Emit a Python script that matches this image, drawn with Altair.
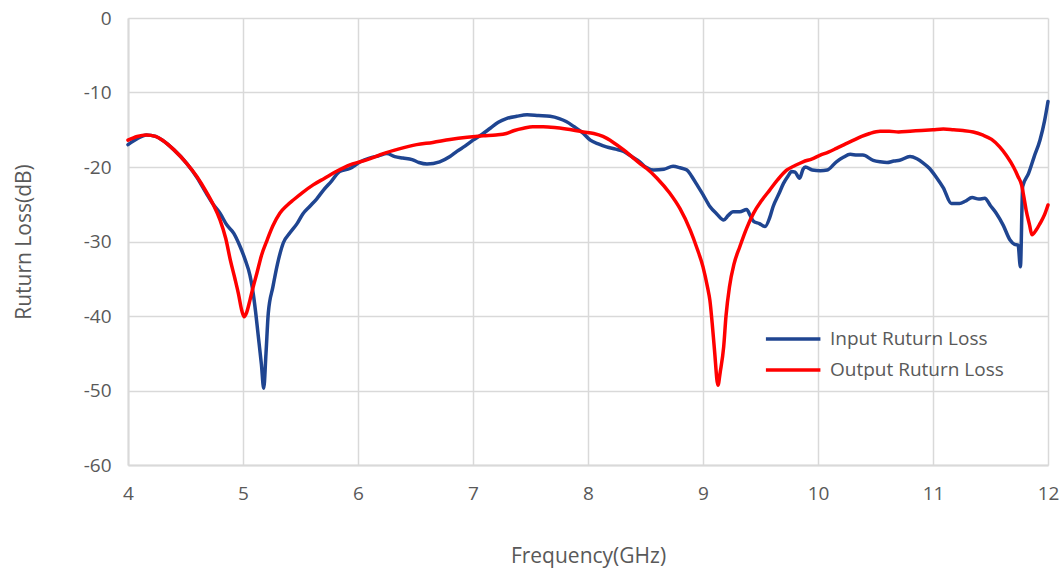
import altair as alt
import pandas as pd

in_freq = [4.00, 4.08, 4.16, 4.24, 4.30, 4.40, 4.51, 4.60, 4.68, 4.74, 4.80, 4.86, 4.92, 4.97, 5.02, 5.06, 5.08, 5.11, 5.13, 5.16, 5.18, 5.20, 5.22, 5.26, 5.30, 5.35, 5.41, 5.47, 5.52, 5.58, 5.64, 5.70, 5.77, 5.84, 5.93, 6.02, 6.10, 6.18, 6.25, 6.32, 6.39, 6.47, 6.53, 6.60, 6.71, 6.80, 6.86, 6.93, 7.00, 7.08, 7.15, 7.22, 7.29, 7.38, 7.47, 7.57, 7.67, 7.75, 7.81, 7.88, 7.96, 8.02, 8.09, 8.16, 8.24, 8.31, 8.38, 8.45, 8.50, 8.57, 8.66, 8.74, 8.80, 8.86, 8.90, 8.94, 9.00, 9.06, 9.12, 9.18, 9.22, 9.26, 9.32, 9.38, 9.41, 9.44, 9.49, 9.54, 9.58, 9.61, 9.66, 9.70, 9.74, 9.77, 9.80, 9.84, 9.87, 9.89, 9.95, 10.02, 10.08, 10.16, 10.22, 10.28, 10.34, 10.39, 10.48, 10.54, 10.60, 10.66, 10.71, 10.80, 10.86, 10.91, 10.97, 11.03, 11.09, 11.16, 11.23, 11.28, 11.34, 11.40, 11.45, 11.50, 11.55, 11.61, 11.67, 11.71, 11.74, 11.76, 11.78, 11.83, 11.88, 11.93, 11.97, 12.00]
in_db = [-17.0, -16.2, -15.7, -15.9, -16.4, -17.7, -19.5, -21.4, -23.5, -25.0, -26.2, -27.8, -28.9, -30.5, -32.5, -34.5, -36.1, -39.5, -42.3, -46.5, -49.7, -45.0, -39.6, -36.1, -33.0, -30.2, -28.8, -27.6, -26.3, -25.3, -24.3, -23.1, -21.9, -20.6, -20.2, -19.3, -18.8, -18.5, -18.2, -18.6, -18.8, -19.0, -19.4, -19.6, -19.3, -18.6, -17.9, -17.2, -16.4, -15.6, -14.8, -14.0, -13.5, -13.2, -13.0, -13.1, -13.2, -13.5, -13.9, -14.6, -15.5, -16.4, -16.9, -17.3, -17.6, -17.9, -18.6, -19.3, -20.0, -20.4, -20.3, -19.9, -20.1, -20.4, -21.2, -22.2, -23.7, -25.3, -26.3, -27.1, -26.5, -26.0, -26.0, -25.7, -26.5, -27.3, -27.6, -28.0, -26.8, -25.3, -23.6, -22.2, -21.2, -20.6, -20.7, -21.5, -20.3, -20.0, -20.4, -20.5, -20.4, -19.3, -18.7, -18.3, -18.4, -18.4, -19.1, -19.3, -19.4, -19.2, -19.1, -18.6, -18.9, -19.4, -20.2, -21.4, -22.8, -24.9, -24.9, -24.6, -24.1, -24.3, -24.2, -25.2, -26.2, -27.8, -29.8, -30.4, -30.5, -33.4, -22.6, -20.9, -18.6, -16.4, -13.8, -11.2]

out_freq = [4.00, 4.08, 4.16, 4.24, 4.30, 4.40, 4.51, 4.60, 4.68, 4.74, 4.80, 4.85, 4.89, 4.93, 4.96, 4.99, 5.01, 5.03, 5.06, 5.09, 5.12, 5.16, 5.21, 5.26, 5.32, 5.38, 5.44, 5.52, 5.61, 5.71, 5.81, 5.93, 6.02, 6.10, 6.22, 6.35, 6.51, 6.65, 6.80, 6.95, 7.09, 7.20, 7.29, 7.36, 7.44, 7.52, 7.61, 7.71, 7.81, 7.96, 8.05, 8.13, 8.22, 8.31, 8.38, 8.45, 8.51, 8.60, 8.71, 8.80, 8.89, 8.95, 9.00, 9.04, 9.06, 9.08, 9.10, 9.13, 9.15, 9.18, 9.20, 9.23, 9.27, 9.32, 9.38, 9.44, 9.51, 9.58, 9.65, 9.73, 9.80, 9.87, 9.95, 10.02, 10.09, 10.16, 10.24, 10.31, 10.38, 10.45, 10.54, 10.62, 10.70, 10.80, 10.90, 11.00, 11.09, 11.18, 11.26, 11.35, 11.43, 11.51, 11.58, 11.64, 11.70, 11.74, 11.77, 11.79, 11.81, 11.84, 11.86, 11.90, 11.93, 11.97, 12.00]
out_db = [-16.4, -15.9, -15.7, -15.9, -16.4, -17.7, -19.5, -21.3, -23.3, -25.0, -27.1, -29.6, -32.5, -35.0, -37.0, -39.3, -40.1, -39.6, -37.9, -36.0, -34.3, -31.9, -29.8, -27.9, -26.2, -25.2, -24.4, -23.4, -22.4, -21.5, -20.6, -19.7, -19.3, -18.9, -18.2, -17.6, -17.0, -16.7, -16.3, -16.0, -15.8, -15.7, -15.5, -15.1, -14.8, -14.6, -14.6, -14.7, -14.9, -15.3, -15.5, -15.9, -16.7, -17.7, -18.6, -19.5, -20.2, -21.5, -23.5, -25.6, -28.5, -31.0, -33.4, -36.2, -37.9, -41.0, -44.6, -49.3, -47.5, -44.1, -40.0, -36.1, -33.0, -30.7, -28.2, -26.2, -24.5, -23.1, -21.7, -20.4, -19.8, -19.3, -18.9, -18.4, -18.0, -17.5, -16.9, -16.4, -15.9, -15.5, -15.2, -15.2, -15.3, -15.2, -15.1, -15.0, -14.9, -15.0, -15.1, -15.3, -15.7, -16.3, -17.3, -18.5, -20.0, -21.3, -22.4, -24.0, -25.8, -27.8, -29.1, -28.4, -27.6, -26.4, -25.1]

series_names = ["Input Ruturn Loss", "Output Ruturn Loss"]
series_colors = ["#1F4591", "#FF0000"]

df = pd.concat([
    pd.DataFrame({"freq": in_freq, "db": in_db, "series": series_names[0], "order": range(len(in_freq))}),
    pd.DataFrame({"freq": out_freq, "db": out_db, "series": series_names[1], "order": range(len(out_freq))}),
])

FONT = "Open Sans"
GRID = "#D9D9D9"
TXT = "#595959"

chart = alt.Chart(df).mark_line(strokeWidth=3.5, strokeJoin="round", strokeCap="round",
                                interpolate="monotone").encode(
    x=alt.X("freq:Q",
            scale=alt.Scale(domain=[4, 12], nice=False, zero=False),
            axis=alt.Axis(title="Frequency(GHz)", values=list(range(4, 13)),
                          labelExpr="datum.value + ''", labelFlush=False,
                          labelPadding=19, titlePadding=42, tickSize=0, domainColor=GRID,
                          domainWidth=2)),
    y=alt.Y("db:Q",
            scale=alt.Scale(domain=[-60, 0], nice=False),
            axis=alt.Axis(title="Ruturn Loss(dB)", values=list(range(-60, 1, 10)),
                          labelExpr="datum.value + ''", labelFlush=False,
                          labelPadding=17, titlePadding=49, tickSize=0, domainColor=GRID,
                          domainWidth=2)),
    color=alt.Color("series:N",
                    scale=alt.Scale(domain=series_names, range=series_colors),
                    legend=alt.Legend(title=None, orient="none", legendX=636, legendY=310,
                                      symbolType="M-1,0H5", symbolSize=330, symbolStrokeWidth=3.5,
                                      labelFontSize=19, labelColor=TXT, labelFont=FONT,
                                      labelLimit=400, rowPadding=10, padding=0, labelOffset=44)),
    order="order:Q",
).properties(
    width=920, height=447,
    padding={"left": 128, "top": 18, "right": 16, "bottom": 108},
    autosize=alt.AutoSizeParams(type="none"),
    background="white",
).configure_axis(
    grid=True, gridColor=GRID, gridWidth=1.5,
    labelFont=FONT, labelFontSize=19, labelColor=TXT,
    titleFont=FONT, titleFontSize=21, titleColor=TXT, titleFontWeight="normal",
).configure_view(stroke=None)

chart.save("out.html", embed_options={"renderer": "svg", "actions": False})
